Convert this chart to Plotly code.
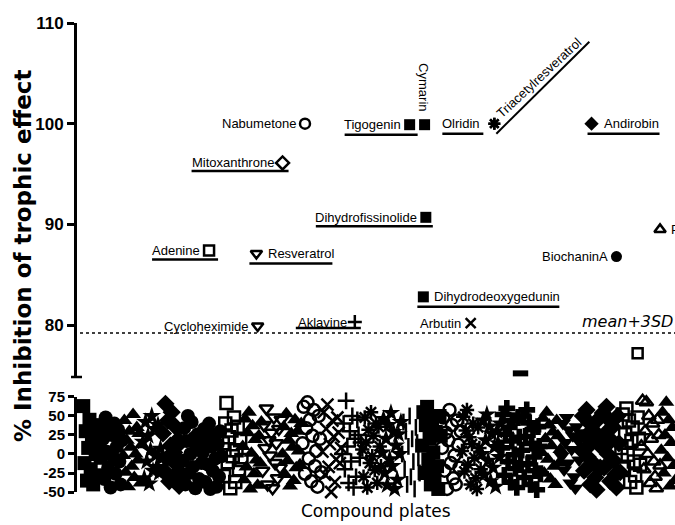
import plotly.graph_objects as go

# ---------------- data ----------------
plate_symbols = ["square", "circle", "triangle-up", "star", "diamond", "circle", "circle",
                 "square-open", "triangle-up", "triangle-down-open", "triangle-up", "circle-open",
                 "x-thin-open", "cross-thin-open", "asterisk-open", "star", "line-ns-open",
                 "square", "circle-open", "asterisk-open", "star", "cross", "cross",
                 "triangle-up", "triangle-down", "diamond", "diamond", "square-open",
                 "triangle-up-open", "triangle-up"]

p00 = [63, -12, 30, -35, 8, 45, -20, 15, -40, 22, 0, 38, -28, 10, -5, 28]
p01 = [20, -33, 48, 3, -18, 36, -44, 25, -4, 40, -26, 10, 32, -10, -40, 18]
p02 = [-2, 44, -24, 18, -43, 30, 9, -16, 52, -31, 0, 35, -8, 27, -38, 12]
p03 = [16, -32, 42, -10, 24, -39, 5, 50, -22, 33, -2, -17, 38, -25, 7, -6]
p04 = [27, -22, 66, -6, 44, -36, 11, 55, -30, 2, 36, -14, 19, -42, 15, -26]
p05 = [-9, 34, -40, 17, 50, -25, 0, 42, -17, 21, -45, 9, 26, -33, 5, -12]
p06 = [2, 33, -37, 18, -14, 40, -46, 10, -22, 26, -6, -43, 13, -30, 30, -3]
p07 = [14, -29, 40, 67, -11, 22, -45, 31, -3, 48, -37, 5, 36, -20, 18, -8]
p08 = [10, -34, 46, -17, 28, 55, -46, 1, 37, -26, 19, -8, -41, 24, -12, 42]
p09 = [-22, 38, 8, 60, -40, 18, -2, 28, -45, 48, -12, 14, -32, 33, -18, 45]
p10 = [0, 36, -27, 53, -9, 18, -42, 27, 9, -35, 45, -18, 30, 4, -14, 40]
p11 = [14, 62, -26, 34, 68, -6, 45, -36, 24, 58, -16, 4, -43, 50, 20, -24]
p12 = [3, 55, -27, 33, 65, -17, 13, -50, 44, 23, -37, -7, 48, 28, -12, 8]
p13 = [0, 40, -20, 70, 10, -38, 30, -10, 50, -44, 20, -30, 45, 25, -5, 15]
p14 = [6, -30, 48, 15, -44, 32, -12, 55, -3, 24, -21, 40, -38, 36, 10, -16]
p15 = [2, 46, -25, 20, -41, 38, -7, 54, -16, 29, -46, 11, -34, 26, 0, 42]
p16 = [0, 42, -20, 30, -40, 10, 50, -30, 20, -10, -46, 35, 15, -5, -25, 45]
p17 = [11, 55, -25, 38, 62, -7, 20, -40, 46, 2, -33, 29, -16, -46, 50, 24]
p18 = [8, 48, -22, 28, -46, 18, 58, -12, 38, -32, -2, -40, 44, 12, -18, 30]
p19 = [4, 49, -23, 31, 58, -14, 22, -40, 13, 40, -5, -32, -46, 35, 8, -20]
p20 = [0, 44, -27, 18, 52, -9, 36, -36, 27, -18, 9, -43, 30, 14, -4, 40]
p21 = [8, 52, -28, 26, 60, -10, 35, -37, 17, 44, -1, -19, -44, 48, 22, -14]
p22 = [5, 50, -31, 23, 58, -13, 41, -40, 14, 32, -4, -22, -47, 36, 10, -26]
p23 = [2, 47, -25, 20, 55, -7, 38, -33, 11, 29, -16, -40, 44, 24, -12, 6]
p24 = [-3, 40, -21, 15, 48, -12, 32, -38, 6, 24, -30, -45, 36, 18, -8, 28]
p25 = [5, 50, -22, 23, 58, -4, 41, -40, 14, 32, -13, -31, -47, 45, 20, -18]
p26 = [9, 54, -18, 27, 62, 0, 45, -36, 18, 36, -9, -27, -44, 50, 14, -24]
p27 = [8, 52, -19, 26, 60, -1, 44, -37, 17, 35, -10, -28, -44, 48, 20, -14]
p28 = [10, 70, -20, 30, 68, 0, 50, -38, 20, 40, -10, -30, -45, 45, 25, -15]
p29 = [5, 55, -25, 25, 68, -5, 45, -42, 15, 35, -15, -35, -47, 40, 12, -20]
plate_values = [p00, p01, p02, p03, p04, p05, p06, p07, p08, p09, p10, p11, p12, p13, p14,
                p15, p16, p17, p18, p19, p20, p21, p22, p23, p24, p25, p26, p27, p28, p29]

hit_names = ["Nabumetone", "Mitoxanthrone", "Adenine", "Resveratrol", "Cycloheximide",
             "Aklavine", "Tigogenin", "Cymarin", "Olridin", "Triacetylresveratrol",
             "Andirobin", "Dihydrofissinolide", "BiochaninA", "P", "Dihydrodeoxygedunin",
             "Arbutin", "", ""]
hit_x = [183, 165, 106, 144, 145, 223, 267, 279, 335, 335, 413, 280, 433, 468, 278, 316, 450, 356]
hit_y = [100.0, 96.1, 87.4, 87.1, 79.9, 80.3, 99.9, 99.9, 100.0, 100.0, 100.0, 90.7, 86.8,
         89.5, 82.8, 80.2, 77.2, 75.2]
hit_symbols = ["circle-open", "diamond-open", "square-open", "triangle-down-open",
               "triangle-down-open", "cross-thin-open", "square", "square", "asterisk-open",
               "asterisk-open", "diamond", "square", "circle", "triangle-up-open", "square",
               "x-thin-open", "square-open", "line-ew-open"]

mean_3sd = 79.2
top_ticks = [80, 90, 100, 110]
bottom_ticks = [-50, -25, 0, 25, 50, 75]
bottom_ticktext = ["-50", "-25", "0", "25", "50", "75"]

# ---------------- layout constants ----------------
W, H = 675, 525
ML, MR, MT, MB = 77, 0, 23, 33
X_RANGE = [0, 480]
TOP_RANGE = [74.84, 110]
BOT_RANGE = [-50, 75]
TOP_DOM = [0.2452, 1.0]
BOT_DOM = [0.0, 0.2026]
plot_w = W - ML - MR
plot_h = H - MT - MB
px_x = plot_w / (X_RANGE[1] - X_RANGE[0])
px_y = plot_h * (TOP_DOM[1] - TOP_DOM[0]) / (TOP_RANGE[1] - TOP_RANGE[0])

# label placement (pixel offsets relative to the marker)
label_style = {
    "Nabumetone": dict(side="left", gap=7),
    "Mitoxanthrone": dict(side="left", gap=7, ul=(-91, 6, 8)),
    "Adenine": dict(side="left", gap=7, ul=(-57, 9, 9)),
    "Resveratrol": dict(side="right", gap=10, ul=(-7, 76, 10)),
    "Cycloheximide": dict(side="left", gap=7),
    "Aklavine": dict(side="left", gap=6, ul=(-59, 6, 6)),
    "Tigogenin": dict(side="left", gap=7, ul=(-65, 8, 10)),
    "Cymarin": dict(rot=90, dx=-1, dy=-38),
    "Olridin": dict(side="left", gap=12, ul=(-52, -11, 10)),
    "Triacetylresveratrol": dict(rot=-43, dx=45, dy=-46, diag=(2, 10, 95, -82)),
    "Andirobin": dict(side="right", gap=10, ul=(-4, 68, 10)),
    "Dihydrofissinolide": dict(side="left", gap=7, ul=(-110, 7, 9)),
    "BiochaninA": dict(side="left", gap=6),
    "P": dict(side="right", gap=9),
    "Dihydrodeoxygedunin": dict(side="right", gap=9, ul=(-6, 136, 10)),
    "Arbutin": dict(side="left", gap=8),
}

def dx(p):
    return p / px_x

def dy(p):
    return -p / px_y

LABEL_FONT = dict(family="Liberation Sans, Arial", size=13, color="black")

fig = go.Figure()

# bottom panel: plates
start = 5
for i, (sym, vals) in enumerate(zip(plate_symbols, plate_values)):
    xs = [start + 16 * i + j for j in range(len(vals))]
    is_open = sym.endswith("-open")
    fig.add_trace(go.Scatter(
        x=xs, y=vals, mode="markers", xaxis="x", yaxis="y2", cliponaxis=False,
        marker=dict(symbol=sym, size=14 if not is_open else 12, color="black", opacity=1,
                    line=dict(color="black", width=2.5 if is_open else 0)),
        hoverinfo="skip"))

# top panel: hits
sizes = []
lws = []
for s in hit_symbols:
    if s == "line-ew-open":
        sizes.append(11); lws.append(6)
    elif s.endswith("-open"):
        sizes.append(10); lws.append(2.5)
    else:
        sizes.append(11); lws.append(0)
fig.add_trace(go.Scatter(
    x=hit_x, y=hit_y, mode="markers", xaxis="x", yaxis="y", cliponaxis=False,
    marker=dict(symbol=hit_symbols, size=sizes, color="black", opacity=1,
                line=dict(color="black", width=lws)),
    hoverinfo="skip"))

annotations = []
shapes = []
for name, hx, hy in zip(hit_names, hit_x, hit_y):
    st = label_style.get(name)
    if not st:
        continue
    if "rot" in st:
        annotations.append(dict(x=hx + dx(st["dx"]), y=hy + dy(st["dy"]), xref="x", yref="y",
                                text=name, showarrow=False, textangle=st["rot"],
                                xanchor="center", yanchor="middle", font=LABEL_FONT))
    else:
        left = st["side"] == "left"
        annotations.append(dict(x=hx, y=hy, xref="x", yref="y", text=name, showarrow=False,
                                xanchor="right" if left else "left",
                                xshift=-st["gap"] if left else st["gap"],
                                yanchor="middle", font=LABEL_FONT))
    if "ul" in st:
        a, b, d = st["ul"]
        shapes.append(dict(type="line", xref="x", yref="y", x0=hx + dx(a), x1=hx + dx(b),
                           y0=hy + dy(d), y1=hy + dy(d), line=dict(color="black", width=2.5)))
    if "diag" in st:
        a, b, c, d = st["diag"]
        shapes.append(dict(type="line", xref="x", yref="y", x0=hx + dx(a), y0=hy + dy(b),
                           x1=hx + dx(c), y1=hy + dy(d), line=dict(color="black", width=2)))

# threshold line
shapes.append(dict(type="line", xref="x domain", yref="y", x0=0.005, x1=1, y0=mean_3sd, y1=mean_3sd,
                   line=dict(color="black", width=1.5, dash="dot")))
# cap at bottom end of the upper axis
shapes.append(dict(type="line", xref="paper", yref="y domain", x0=-6 / plot_w, x1=5 / plot_w,
                   y0=0, y1=0, line=dict(color="black", width=2.5)))

annotations.append(dict(x=1, y=mean_3sd, xref="paper", yref="y", text="mean+3SD",
                        showarrow=False, xanchor="right", yanchor="bottom", yshift=0,
                        font=dict(family="DejaVu Sans", size=16, color="black", style="italic")))
annotations.append(dict(x=(23 - ML) / plot_w, y=(H - MB - 256) / plot_h, xref="paper", yref="paper",
                        text="% Inhibition of trophic effect", showarrow=False, textangle=-90,
                        xanchor="center", yanchor="middle",
                        font=dict(family="DejaVu Sans", size=23, color="black", weight="bold")))
annotations.append(dict(x=0.5, y=-(511 - (H - MB)) / plot_h, xref="paper", yref="paper",
                        text="Compound plates", showarrow=False, xanchor="center", yanchor="middle",
                        font=dict(family="DejaVu Sans", size=17, color="black")))

tickfont_top = dict(family="Liberation Sans, Arial", size=17, color="black", weight="bold")
tickfont_bot = dict(family="Liberation Sans, Arial", size=15, color="black", weight="bold")

fig.update_layout(
    width=W, height=H, margin=dict(l=ML, r=MR, t=MT, b=MB),
    plot_bgcolor="white", paper_bgcolor="white", showlegend=False,
    xaxis=dict(range=X_RANGE, visible=False, anchor="y2"),
    yaxis=dict(domain=TOP_DOM, range=TOP_RANGE, tickvals=top_ticks, ticks="outside", ticklen=7,
               tickwidth=2.5, tickcolor="black", showline=True, linewidth=3, linecolor="black",
               showgrid=False, zeroline=False, tickfont=tickfont_top, anchor="x", automargin=False),
    yaxis2=dict(domain=BOT_DOM, range=BOT_RANGE, tickvals=bottom_ticks, ticktext=bottom_ticktext,
                ticks="outside", ticklen=6, tickwidth=2.5, tickcolor="black", showline=True,
                linewidth=3, linecolor="black", showgrid=False, zeroline=False,
                tickfont=tickfont_bot, anchor="x", automargin=False),
    annotations=annotations, shapes=shapes,
)

fig.write_html("out.html", config={"displayModeBar": False},
               post_script="document.body.style.margin='0px';document.body.style.overflow='hidden';")
